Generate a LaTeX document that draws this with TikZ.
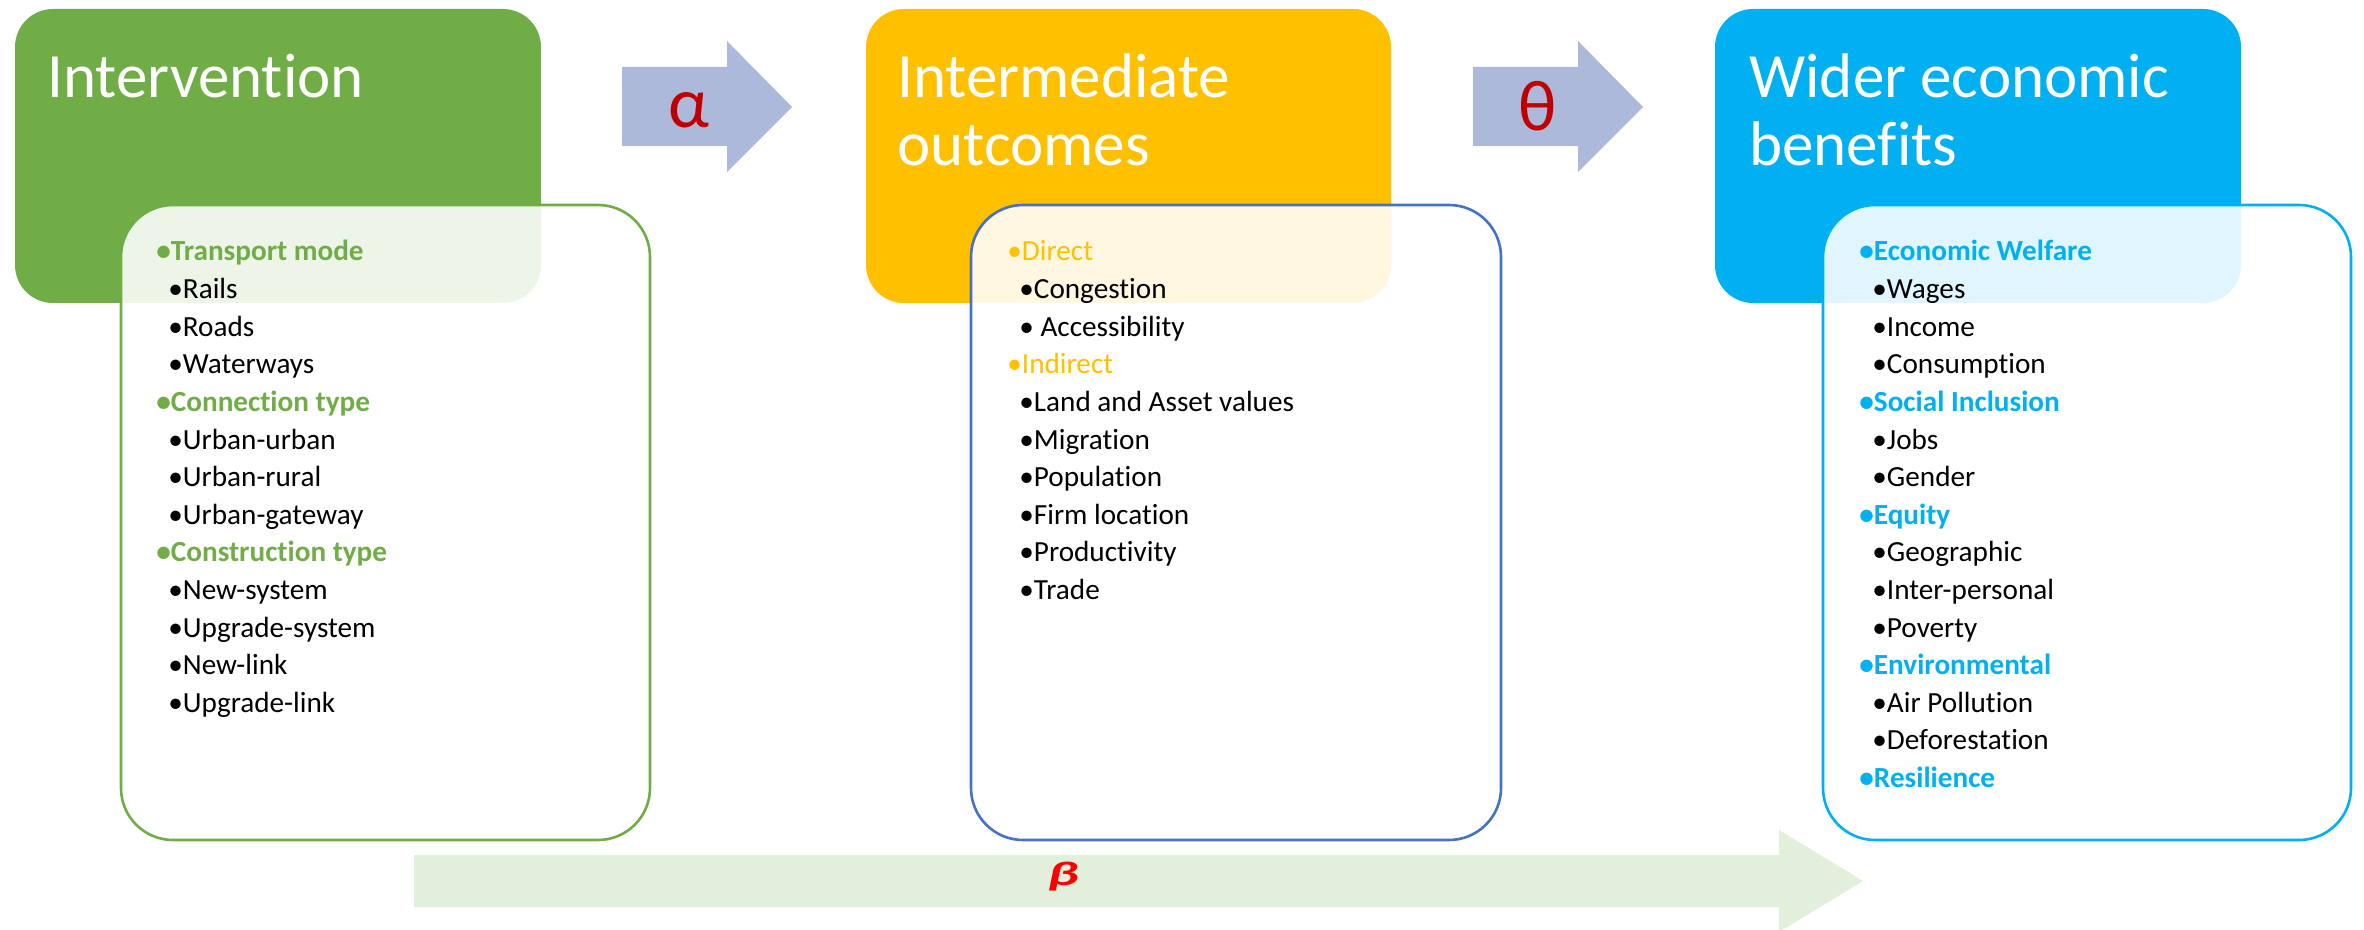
\documentclass[tikz,border=0pt]{standalone}
\usepackage{graphicx}
\usepackage{fontspec}
\setmainfont{Carlito}[Ligatures={NoCommon}]
\definecolor{igreen}{HTML}{70AD47}
\definecolor{iorange}{HTML}{FFC000}
\definecolor{icyan}{HTML}{00B0F0}
\definecolor{iblue}{HTML}{4472C4}
\definecolor{arrowblue}{HTML}{ADB9DB}
\definecolor{betafill}{HTML}{E2EFDA}
\definecolor{darkred}{HTML}{C00000}
\definecolor{brightred}{HTML}{FF0000}
\begin{document}
\begin{tikzpicture}[x=0.5pt,y=-0.5pt,
  hdrbox/.style={rounded corners=19pt},
  listbox/.style={rounded corners=26pt, line width=1.3pt, fill=white, fill opacity=0.88},
  title/.style={anchor=base west, inner sep=0pt, text=white, font=\fontsize{31.5}{34}\selectfont},
  item/.style={anchor=base west, inner sep=0pt, font=\fontsize{14.6}{17}\selectfont},
  head/.style={anchor=base west, inner sep=0pt, font=\fontsize{14.6}{17}\selectfont\bfseries},
  lighthead/.style={anchor=base west, inner sep=0pt, font=\fontsize{14.6}{17}\selectfont},
  greek/.style={text=darkred, inner sep=0pt, font=\fontsize{36}{40}\selectfont},
  blockarrow/.style={fill=arrowblue}
]
\useasboundingbox (0,0) rectangle (2364,930);

% header boxes
\fill[hdrbox, igreen] (15,9) rectangle (541,303);
\fill[hdrbox, iorange] (866,9) rectangle (1391,303);
\fill[hdrbox, icyan] (1715,9) rectangle (2241,303);

% list boxes
\draw[listbox, draw=igreen] (121,205) rectangle (650,840);
\draw[listbox, draw=iblue] (971,205) rectangle (1501,840);
\draw[listbox, draw=icyan] (1823,205) rectangle (2351,840);

% titles
\node[title] (t1) at (47,98) {Intervention};
\node[title] (t2a) at (897,98) {Intermediate};
\node[title] (t2b) at (897,166) {outcomes};
\node[title] (t3a) at (1749,98) {Wider economic};
\node[title] (t3b) at (1749,166) {benefits};

% block arrows
\fill[blockarrow] (622,67) -- (727,67) -- (727,41) -- (792,107) -- (727,172) -- (727,146) -- (622,146) -- cycle;
\node[greek] (alpha) at (689,110) {α};
\fill[blockarrow] (1473,67) -- (1578,67) -- (1578,41) -- (1643,107) -- (1578,172) -- (1578,146) -- (1473,146) -- cycle;
\node[greek] (theta) at (1538,106) {θ};

\fill[betafill] (414,855) -- (1779,855) -- (1779,830) -- (1863,881) -- (1779,932) -- (1779,907) -- (414,907) -- cycle;
\node[text=brightred, inner sep=0pt, font=\fontsize{17}{19}\selectfont\bfseries\itshape] (beta) at (1063,877) {\scalebox{1.7}[1]{β}};

% green list
\node[head, text=igreen] (g1) at (156,261) {•Transport mode};
\node[item] (g2) at (168,298.6) {•Rails};
\node[item] (g3) at (168,336.2) {•Roads};
\node[item] (g4) at (168,373.8) {•Waterways};
\node[head, text=igreen] (g5) at (156,411.4) {•Connection type};
\node[item] (g6) at (168,449) {•Urban-urban};
\node[item] (g7) at (168,486.6) {•Urban-rural};
\node[item] (g8) at (168,524.2) {•Urban-gateway};
\node[head, text=igreen] (g9) at (156,561.8) {•Construction type};
\node[item] (g10) at (168,599.4) {•New-system};
\node[item] (g11) at (168,637) {•Upgrade-system};
\node[item] (g12) at (168,674.6) {•New-link};
\node[item] (g13) at (168,712.2) {•Upgrade-link};

% orange list
\node[lighthead, text=iorange] (o1) at (1007,261) {•Direct};
\node[item] (o2) at (1019,298.6) {•Congestion};
\node[item] (o3) at (1019,336.2) {• Accessibility};
\node[lighthead, text=iorange] (o4) at (1007,373.8) {•Indirect};
\node[item] (o5) at (1019,411.4) {•Land and Asset values};
\node[item] (o6) at (1019,449) {•Migration};
\node[item] (o7) at (1019,486.6) {•Population};
\node[item] (o8) at (1019,524.2) {•Firm location};
\node[item] (o9) at (1019,561.8) {•Productivity};
\node[item] (o10) at (1019,599.4) {•Trade};

% cyan list
\node[head, text=icyan] (c1) at (1859,261) {•Economic Welfare};
\node[item] (c2) at (1872,298.6) {•Wages};
\node[item] (c3) at (1872,336.2) {•Income};
\node[item] (c4) at (1872,373.8) {•Consumption};
\node[head, text=icyan] (c5) at (1859,411.4) {•Social Inclusion};
\node[item] (c6) at (1872,449) {•Jobs};
\node[item] (c7) at (1872,486.6) {•Gender};
\node[head, text=icyan] (c8) at (1859,524.2) {•Equity};
\node[item] (c9) at (1872,561.8) {•Geographic};
\node[item] (c10) at (1872,599.4) {•Inter-personal};
\node[item] (c11) at (1872,637) {•Poverty};
\node[head, text=icyan] (c12) at (1859,674.6) {•Environmental};
\node[item] (c13) at (1872,712.2) {•Air Pollution};
\node[item] (c14) at (1872,749.8) {•Deforestation};
\node[head, text=icyan] (c15) at (1859,787.4) {•Resilience};
\end{tikzpicture}
\end{document}
